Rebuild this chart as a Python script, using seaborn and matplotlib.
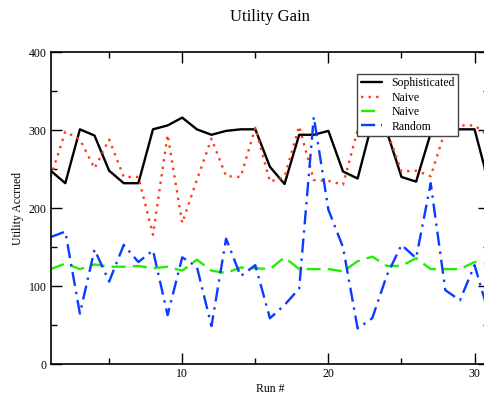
import matplotlib

matplotlib.use("Agg")
import matplotlib.pyplot as plt
import pandas as pd
import seaborn as sns
from matplotlib.ticker import MultipleLocator

sns.set_style("ticks", {"axes.edgecolor": "black", "xtick.color": "black",
                        "ytick.color": "black", "text.color": "black",
                        "axes.labelcolor": "black"})
plt.rcParams["font.family"] = ["Liberation Serif", "DejaVu Serif"]

# values
runs = list(range(1, 32))
sophisticated = [248, 232, 301, 293, 248, 232, 232, 301, 306, 316, 301, 294, 299, 301, 301, 253,
                 231, 294, 294, 299, 247, 238, 310, 298, 240, 234, 296, 300, 301, 301, 230]
naive_red = [240, 298, 288, 251, 288, 240, 240, 166, 294, 181, 236, 289, 241, 240, 303, 234,
             240, 305, 236, 235, 230, 300, 296, 300, 247, 248, 241, 300, 306, 306, 292]
naive_green = [122, 129, 122, 128, 125, 125, 126, 123, 125, 120, 134, 120, 117, 124, 123, 122,
               137, 122, 122, 122, 119, 132, 138, 126, 126, 136, 122, 122, 122, 131, 128]
random_util = [163, 170, 65, 147, 106, 153, 131, 146, 63, 137, 125, 49, 161, 113, 127, 59,
               76, 97, 317, 198, 150, 46, 59, 114, 153, 136, 232, 95, 82, 127, 63]

series = [
    ("Sophisticated", sophisticated, "black", "-"),
    ("Naive", naive_red, "#ff3a1a", (0, (1, 2.2))),
    ("Naive", naive_green, "#22ee00", (0, (6, 3))),
    ("Random", random_util, "#0a3cff", (0, (6, 2.5, 1, 2.5))),
]

fig = plt.figure(figsize=(4.84, 3.96), dpi=100)
ax = fig.add_axes([0.1047, 0.080, 0.906, 0.7886])

for name, values, color, ls in series:
    df = pd.DataFrame({"run": runs, "utility": values})
    sns.lineplot(data=df, x="run", y="utility", ax=ax, color=color, linestyle=ls,
                 linewidth=1.7, label=name)

ax.set_xlim(1, 31)
ax.set_ylim(0, 400)
ax.xaxis.set_major_locator(MultipleLocator(10))
ax.xaxis.set_minor_locator(MultipleLocator(5))
ax.yaxis.set_major_locator(MultipleLocator(100))
ax.yaxis.set_minor_locator(MultipleLocator(50))
ax.tick_params(which="both", direction="in", top=True, right=True, labelsize=8.5, pad=3,
               width=1, colors="black")
ax.tick_params(which="major", length=8)
ax.tick_params(which="minor", length=4)
for sp in ax.spines.values():
    sp.set_linewidth(1.2)
    sp.set_color("black")

ax.set_title("Utility Gain", fontsize=12, pad=22, color="black")
ax.set_xlabel("Run #", fontsize=8.5, labelpad=2, color="black")
ax.set_ylabel("Utility Accrued", fontsize=8.5, labelpad=3, color="black")

leg = ax.legend(loc="upper left", bbox_to_anchor=(0.699, 0.93), fontsize=8.5,
                fancybox=False, framealpha=1, edgecolor="#444444", handlelength=1.8,
                borderpad=0.3, labelspacing=0.2, handletextpad=0.8, borderaxespad=0)
leg.get_frame().set_linewidth(1)
for t in leg.get_texts():
    t.set_color("black")

fig.savefig("out.png", dpi=100)
